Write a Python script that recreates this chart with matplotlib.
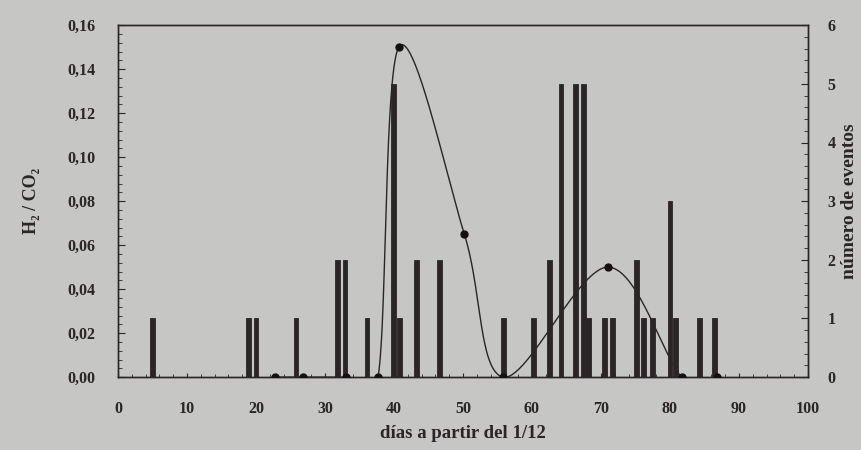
import numpy as np
import matplotlib
matplotlib.use("Agg")
import matplotlib.pyplot as plt
from matplotlib.ticker import MultipleLocator, FuncFormatter

plt.rcParams['font.family'] = ['Liberation Serif', 'DejaVu Serif']
plt.rcParams['font.weight'] = 'bold'
plt.rcParams['axes.labelweight'] = 'bold'

# H2/CO2 ratio (left axis)
dias_h2 = [22.8, 26.8, 33.0, 37.7, 40.7, 50.2, 55.8, 71.0, 81.7, 86.8]
h2_co2 = [0.0, 0.0, 0.0, 0.0, 0.150, 0.065, 0.0, 0.050, 0.0, 0.0]

# number of events per day (right axis)
dias_ev = [5, 18.9, 20, 25.8, 31.8, 32.9, 36.1, 39.9, 40.8, 43.3, 46.6,
           55.9, 60.2, 62.6, 64.2, 66.3, 67.5, 68.2, 70.5, 71.7, 75.2,
           76.2, 77.5, 80, 80.8, 84.3, 86.5]
eventos = [1, 1, 1, 1, 2, 2, 1, 5, 1, 2, 2,
           1, 1, 2, 5, 5, 5, 1, 1, 1, 2,
           1, 1, 3, 1, 1, 1]

bg = '#c6c6c4'
ink = '#2a2527'


def smooth_curve(x, y, sx, sy, n=60):
    '''Bezier smoothing through points (control points from neighbours)'''
    p = np.column_stack([np.asarray(x) * sx, np.asarray(y) * sy])
    pts = []
    for i in range(len(p) - 1):
        a = p[max(i - 1, 0)]
        b = p[i]
        c = p[i + 1]
        d = p[min(i + 2, len(p) - 1)]
        c1 = b + (c - a) / 6.0
        c2 = c - (d - b) / 6.0
        t = np.linspace(0, 1, n)[:, None]
        seg = ((1 - t) ** 3) * b + 3 * ((1 - t) ** 2) * t * c1 + 3 * (1 - t) * t ** 2 * c2 + t ** 3 * c
        pts.append(seg)
    pts = np.vstack(pts)
    return pts[:, 0] / sx, pts[:, 1] / sy


fig = plt.figure(figsize=(8.61, 4.5), dpi=100)
fig.patch.set_facecolor(bg)
ax = fig.add_axes([0.137, 0.162, 0.8014, 0.782])
ax2 = ax.twinx()

ax2.bar(dias_ev, eventos, width=0.7, color=ink, edgecolor=ink, linewidth=0.6, zorder=2)
ax2.set_ylim(0, 6)
ax2.yaxis.set_major_locator(MultipleLocator(1))
ax2.yaxis.set_minor_locator(MultipleLocator(0.2))
ax2.tick_params(axis='y', which='both', direction='in', colors=ink, labelsize=11.5, pad=14)
ax2.tick_params(axis='y', which='major', length=5)
ax2.tick_params(axis='y', which='minor', length=3)
ax2.set_ylabel('número de eventos', fontsize=14, color=ink, labelpad=4)

# put the line axis in front of the bars
ax.set_zorder(ax2.get_zorder() + 1)
ax.patch.set_visible(False)
ax2.patch.set_facecolor(bg)

xs, ys = smooth_curve(dias_h2, h2_co2, 6.9, 354 / 0.16)
ax.plot(xs, ys, color=ink, linewidth=1.0, zorder=3)
ax.plot(dias_h2, h2_co2, 'o', color='#151113', markersize=5, zorder=4)

ax.set_xlim(0, 100)
ax.set_ylim(0, 0.16)
ax.xaxis.set_major_locator(MultipleLocator(10))
ax.xaxis.set_minor_locator(MultipleLocator(2))
ax.yaxis.set_major_locator(MultipleLocator(0.02))
ax.yaxis.set_minor_locator(MultipleLocator(0.004))
ax.yaxis.set_major_formatter(FuncFormatter(lambda v, p: ('%.2f' % v).replace('.', ',')))
ax.tick_params(axis='both', which='both', direction='in', colors=ink, labelsize=11.5)
ax.tick_params(axis='y', which='major', length=5, pad=16)
ax.tick_params(axis='y', which='minor', length=3)
ax.tick_params(axis='x', which='major', length=3, pad=17)
ax.tick_params(axis='x', which='minor', length=2)
ax.tick_params(top=False, which='both')
ax.set_xlabel('días a partir del 1/12', fontsize=13.5, color=ink, labelpad=6)
ax.set_ylabel('H₂ / CO₂', fontsize=13, color=ink, labelpad=20)

for a in (ax, ax2):
    for s in a.spines.values():
        s.set_color(ink)
        s.set_linewidth(1.0)

fig.savefig('out.png', dpi=100, facecolor=bg)
